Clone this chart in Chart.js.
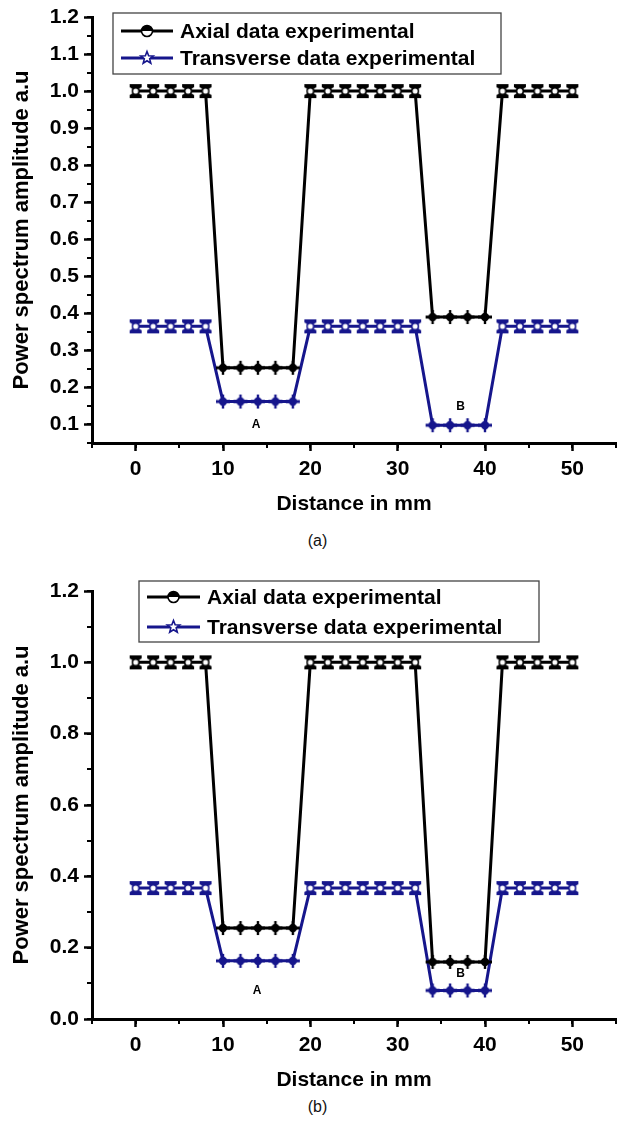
<!DOCTYPE html>
<html>
<head>
<meta charset="utf-8">
<script src="https://cdn.jsdelivr.net/npm/chart.js@4.4.1/dist/chart.umd.min.js"></script>
<style>
body { margin:0; background:#fff; width:625px; height:1123px; position:relative; overflow:hidden; font-family:"Liberation Sans", Arial, sans-serif; }
canvas { position:absolute; left:0; }
.cap { position:absolute; left:0; width:635px; text-align:center; font-size:16px; color:#111; line-height:20px; }
</style>
</head>
<body>
<canvas id="chartA" width="625" height="517" style="top:0"></canvas>
<div class="cap" style="top:531px">(a)</div>
<canvas id="chartB" width="625" height="533" style="top:560px"></canvas>
<div class="cap" style="top:1097px">(b)</div>
<script>
// distance along the sample, mm
const distance = [0, 2, 4, 6, 8, 10, 12, 14, 16, 18, 20, 22, 24, 26, 28, 30, 32, 34, 36, 38, 40, 42, 44, 46, 48, 50];

// panel (a)
const axialA = [1.0, 1.0, 1.0, 1.0, 1.0, 0.253, 0.253, 0.253, 0.253, 0.253, 1.0, 1.0, 1.0, 1.0, 1.0, 1.0, 1.0, 0.39, 0.39, 0.39, 0.39, 1.0, 1.0, 1.0, 1.0, 1.0];
const transA = [0.365, 0.365, 0.365, 0.365, 0.365, 0.162, 0.162, 0.162, 0.162, 0.162, 0.365, 0.365, 0.365, 0.365, 0.365, 0.365, 0.365, 0.098, 0.098, 0.098, 0.098, 0.365, 0.365, 0.365, 0.365, 0.365];
// panel (b)
const axialB = [1.0, 1.0, 1.0, 1.0, 1.0, 0.255, 0.255, 0.255, 0.255, 0.255, 1.0, 1.0, 1.0, 1.0, 1.0, 1.0, 1.0, 0.16, 0.16, 0.16, 0.16, 1.0, 1.0, 1.0, 1.0, 1.0];
const transB = [0.367, 0.367, 0.367, 0.367, 0.367, 0.163, 0.163, 0.163, 0.163, 0.163, 0.367, 0.367, 0.367, 0.367, 0.367, 0.367, 0.367, 0.08, 0.08, 0.08, 0.08, 0.367, 0.367, 0.367, 0.367, 0.367];

const xTicks = [0, 10, 20, 30, 40, 50];
const yTicksA = [0.1, 0.2, 0.3, 0.4, 0.5, 0.6, 0.7, 0.8, 0.9, 1.0, 1.1, 1.2];
const yTicksB = [0.0, 0.2, 0.4, 0.6, 0.8, 1.0, 1.2];

const notesA = [{ text: 'A', x: 13.8, y: 0.10 }, { text: 'B', x: 37.2, y: 0.147 }];
const notesB = [{ text: 'A', x: 13.9, y: 0.08 }, { text: 'B', x: 37.2, y: 0.128 }];

const seriesNames = ['Axial data experimental', 'Transverse data experimental'];
const BLACK = '#000000';
const NAVY = '#16168c';

// marker pictures
function hourglass(color) {
    const c = document.createElement('canvas');
    c.width = 14; c.height = 16;
    const g = c.getContext('2d');
    g.fillStyle = color;
    g.beginPath();
    g.moveTo(1, 1); g.lineTo(13, 1); g.lineTo(13, 4); g.lineTo(10, 6); g.lineTo(4, 6); g.lineTo(1, 4);
    g.closePath(); g.fill();
    g.beginPath();
    g.moveTo(1, 15); g.lineTo(13, 15); g.lineTo(13, 12); g.lineTo(10, 10); g.lineTo(4, 10); g.lineTo(1, 12);
    g.closePath(); g.fill();
    g.beginPath();
    g.arc(7, 8, 3.3, 0, Math.PI * 2);
    g.fillStyle = '#fff';
    g.fill();
    g.lineWidth = 1.5;
    g.strokeStyle = color;
    g.stroke();
    return c;
}
function cross(color) {
    const c = document.createElement('canvas');
    c.width = 16; c.height = 16;
    const g = c.getContext('2d');
    g.fillStyle = color;
    g.beginPath();
    g.arc(8, 8, 4.2, 0, Math.PI * 2);
    g.fill();
    g.fillRect(1, 6.5, 14, 3);
    g.fillRect(6.8, 1, 2.4, 14);
    return c;
}
const marks = {
    black: { high: hourglass(BLACK), low: cross(BLACK), cut: 0.8 },
    navy: { high: hourglass(NAVY), low: cross(NAVY), cut: 0.3 }
};

function series(label, values, color, m) {
    return {
        label: label,
        data: distance.map((d, i) => ({ x: d, y: values[i] })),
        borderColor: color,
        backgroundColor: color,
        borderWidth: 3,
        tension: 0,
        pointStyle: c => (c.raw && c.raw.y < m.cut) ? m.low : m.high,
        pointRadius: 6
    };
}

const minorTicks = {
    id: 'minorTicks',
    afterDraw(chart, args, o) {
        const ctx = chart.ctx, xs = chart.scales.x, ys = chart.scales.y;
        ctx.save();
        ctx.strokeStyle = '#000';
        ctx.lineWidth = 2;
        ctx.beginPath();
        for (let v = xs.min; v <= xs.max + 1e-9; v += o.xStep) {
            const px = Math.round(xs.getPixelForValue(v));
            ctx.moveTo(px, xs.top); ctx.lineTo(px, xs.top + 5);
        }
        for (let v = ys.min; v <= ys.max + 1e-9; v += o.yStep) {
            const py = Math.round(ys.getPixelForValue(v));
            ctx.moveTo(ys.right, py); ctx.lineTo(ys.right - 5, py);
        }
        ctx.stroke();
        ctx.restore();
    }
};

const notes = {
    id: 'notes',
    afterDatasetsDraw(chart, args, o) {
        const ctx = chart.ctx;
        ctx.save();
        ctx.font = 'bold 12px "Liberation Sans", Arial, sans-serif';
        ctx.fillStyle = '#000';
        ctx.textAlign = 'center';
        ctx.textBaseline = 'middle';
        o.items.forEach(n => {
            ctx.fillText(n.text, chart.scales.x.getPixelForValue(n.x), chart.scales.y.getPixelForValue(n.y));
        });
        ctx.restore();
    }
};

const boxLegend = {
    id: 'boxLegend',
    afterDraw(chart, args, o) {
        const ctx = chart.ctx;
        ctx.save();
        ctx.fillStyle = '#fff';
        ctx.fillRect(o.x, o.y, o.w, o.h);
        ctx.strokeStyle = '#444';
        ctx.lineWidth = 1.3;
        ctx.strokeRect(o.x, o.y, o.w, o.h);
        ctx.font = 'bold 21px "Liberation Sans", Arial, sans-serif';
        ctx.textBaseline = 'middle';
        chart.data.datasets.forEach((ds, i) => {
            const cy = o.y + o.rows[i];
            ctx.strokeStyle = ds.borderColor;
            ctx.lineWidth = 3;
            ctx.beginPath();
            ctx.moveTo(o.x + o.l1, cy); ctx.lineTo(o.x + o.l2, cy);
            ctx.stroke();
            const mx = o.x + (o.l1 + o.l2) / 2;
            ctx.lineWidth = 1.6;
            if (i === 0) {
                ctx.beginPath(); ctx.arc(mx, cy, 5.5, 0, Math.PI * 2);
                ctx.fillStyle = '#fff'; ctx.fill(); ctx.stroke();
                ctx.beginPath(); ctx.arc(mx, cy, 5.5, Math.PI, 0);
                ctx.fillStyle = ds.borderColor; ctx.fill();
            } else {
                ctx.beginPath();
                for (let k = 0; k < 10; k++) {
                    const r = k % 2 ? 2.8 : 6.5, a = -Math.PI / 2 + k * Math.PI / 5;
                    ctx.lineTo(mx + r * Math.cos(a), cy + r * Math.sin(a));
                }
                ctx.closePath();
                ctx.fillStyle = '#fff'; ctx.fill(); ctx.stroke();
            }
            ctx.fillStyle = '#000';
            ctx.fillText(ds.label, o.x + o.tx, cy + 1);
        });
        ctx.restore();
    }
};

function makeChart(id, axial, trans, yMin, yMax, yTicks, yStep, legendBox, noteItems, padTop) {
    const font = { family: '"Liberation Sans", Arial, sans-serif', weight: 'bold' };
    return new Chart(document.getElementById(id), {
        type: 'line',
        data: {
            datasets: [
                series(seriesNames[0], axial, BLACK, marks.black),
                series(seriesNames[1], trans, NAVY, marks.navy)
            ]
        },
        options: {
            responsive: false,
            animation: false,
            layout: { padding: { top: padTop, left: 0, right: 2, bottom: 0 } },
            plugins: {
                legend: { display: false },
                tooltip: { enabled: false },
                minorTicks: { xStep: 5, yStep: yStep },
                notes: { items: noteItems },
                boxLegend: legendBox
            },
            scales: {
                x: {
                    type: 'linear', min: -5, max: 55,
                    afterBuildTicks: s => { s.ticks = xTicks.map(v => ({ value: v })); },
                    afterFit: s => { s.height = 74; s.paddingLeft = 0; s.paddingRight = 0; },
                    border: { width: 3, color: '#000' },
                    grid: { drawOnChartArea: false, tickLength: 8, tickWidth: 2.5, tickColor: '#000' },
                    ticks: { color: '#000', padding: 6, maxRotation: 0, font: Object.assign({ size: 21 }, font) },
                    title: { display: true, text: 'Distance in mm', color: '#000', padding: { top: 4, bottom: 0 }, font: Object.assign({ size: 21 }, font) }
                },
                y: {
                    type: 'linear', min: yMin, max: yMax,
                    afterBuildTicks: s => { s.ticks = yTicks.map(v => ({ value: v })); },
                    afterFit: s => { s.width = 92; s.paddingTop = 0; s.paddingBottom = 0; },
                    border: { width: 3, color: '#000' },
                    grid: { drawOnChartArea: false, tickLength: 8, tickWidth: 2.5, tickColor: '#000' },
                    ticks: { color: '#000', padding: 5, callback: v => v.toFixed(1), font: Object.assign({ size: 21 }, font) },
                    title: { display: true, text: 'Power spectrum amplitude a.u', color: '#000', padding: { top: 9, bottom: 0 }, font: Object.assign({ size: 22 }, font) }
                }
            }
        },
        plugins: [minorTicks, notes, boxLegend]
    });
}

makeChart('chartA', axialA, transA, 0.05, 1.2, yTicksA, 0.05,
    { x: 113, y: 13, w: 388, h: 61, rows: [18, 45], l1: 8, l2: 60, tx: 67 },
    notesA, 17);
makeChart('chartB', axialB, transB, 0.0, 1.2, yTicksB, 0.1,
    { x: 139, y: 21, w: 400, h: 61, rows: [16, 46], l1: 8, l2: 61, tx: 68 },
    notesB, 31);
</script>
</body>
</html>
